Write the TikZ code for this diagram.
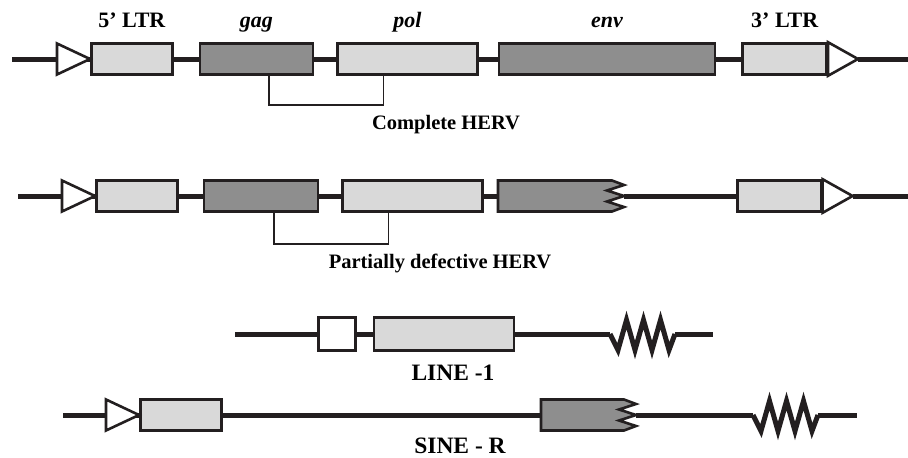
\documentclass[tikz,border=0pt]{standalone}
\usepackage{fontspec}
\setmainfont{Liberation Serif}
\usetikzlibrary{positioning}
\definecolor{ink}{HTML}{231F20}
\definecolor{ltrgray}{HTML}{D9D9D9}
\definecolor{orfgray}{HTML}{8E8E8E}
\tikzset{
	dna/.style={draw=ink, line width=5pt}, % the thick backbone
	box/.style={draw=ink, line width=2.6pt, inner sep=0pt, minimum height=31pt},
	ltr/.style={box, fill=ltrgray}, % light boxes
	orf/.style={box, fill=orfgray}, % dark boxes
	promo/.style={draw=ink, line width=2.6pt, fill=white}, % open triangles
	link/.style={draw=ink, line width=1.8pt}, % gag-pol bracket
	gene/.style={font=\bfseries\itshape\fontsize{22}{24}\selectfont, anchor=base},
	tag/.style={font=\bfseries\fontsize{22}{24}\selectfont, anchor=base},
	title/.style={font=\bfseries\fontsize{20.5}{24}\selectfont, anchor=base},
	big/.style={font=\bfseries\fontsize{23.5}{26}\selectfont, anchor=base},
	% truncated env, #1 = length of the flat part
	cut/.pic={
		\draw[draw=ink, line width=2.6pt, fill=orfgray]
			(0,-15.5) -- (#1,-15.5) -- ({#1+12},-11) -- ({#1-5},-5.5) -- ({#1+12},0)
			-- ({#1-5},5.5) -- ({#1+12},11) -- (#1,15.5) -- (0,15.5) -- cycle;
		\coordinate (-in) at (0,0);
		\coordinate (-tip) at ({#1+12},0);
	},
	% poly-A like zigzag
	tail/.pic={
		\draw[dna] (0,0) coordinate (-in) -- (8,16) -- (16.5,-14) -- (25,16) -- (33.5,-14)
			-- (42,16) -- (50.5,-14) -- (59,16) -- (65,0) coordinate (-end);
	},
}

\begin{document}
\begin{tikzpicture}[x=1pt, y=-1pt]
	\useasboundingbox (0,0) rectangle (908,458);

	% complete HERV
	\coordinate (s1) at (12,59);
	\node[ltr, minimum width=81pt, anchor=west] (ltra) at (90,59) {};
	\node[orf, minimum width=113pt, right=25pt of ltra] (gaga) {};
	\node[ltr, minimum width=140pt, right=22pt of gaga] (pola) {};
	\node[orf, minimum width=216pt, right=19pt of pola] (enva) {};
	\node[ltr, minimum width=84pt, right=25pt of enva] (ltrb) {};
	\coordinate (tipb) at ([xshift=30pt]ltrb.east);
	\coordinate (e1) at (908,59);
	\draw[dna] (s1) -- (ltra.west);
	\draw[dna] (ltra) -- (gaga);
	\draw[dna] (gaga) -- (pola);
	\draw[dna] (pola) -- (enva);
	\draw[dna] (enva) -- (ltrb);
	\draw[dna] (tipb) -- (e1);
	\draw[promo] (ltra.west) -- ++(-33,15.5) -- ++(0,-31) -- cycle;
	\draw[promo] (ltrb.north east) -- (tipb) -- (ltrb.south east) -- cycle;
	\draw[link] ([xshift=12.5pt]gaga.south) -- ++(0,29) -| ([xshift=-24pt]pola.south);
	\node[tag] (la) at ([yshift=15pt]ltra.north) {5' LTR};
	\node[gene] (lb) at ([yshift=15pt]gaga.north) {gag};
	\node[gene] (lc) at ([yshift=15pt]pola.north) {pol};
	\node[gene] (ld) at ([yshift=15pt]enva.north) {env};
	\node[tag] (le) at ([yshift=15pt]ltrb.north) {3' LTR};
	\node[title] (cap1) at (446,129) {Complete HERV};

	% partially defective HERV
	\coordinate (s2) at (18,196);
	\node[ltr, minimum width=81pt, anchor=west] (ltrc) at (95,196) {};
	\node[orf, minimum width=114pt, right=24pt of ltrc] (gagb) {};
	\node[ltr, minimum width=140pt, right=22pt of gagb] (polb) {};
	\pic (envb) at (498,196) {cut=114};
	\node[ltr, minimum width=84pt, anchor=west] (ltrd) at (736,196) {};
	\coordinate (tipd) at ([xshift=30pt]ltrd.east);
	\coordinate (e2) at (908,196);
	\draw[dna] (s2) -- (ltrc.west);
	\draw[dna] (ltrc) -- (gagb);
	\draw[dna] (gagb) -- (polb);
	\draw[dna] (polb) -- (envb-in);
	\draw[dna] (envb-tip) -- (ltrd);
	\draw[dna] (tipd) -- (e2);
	\draw[promo] (ltrc.west) -- ++(-33,15.5) -- ++(0,-31) -- cycle;
	\draw[promo] (ltrd.north east) -- (tipd) -- (ltrd.south east) -- cycle;
	\draw[link] ([xshift=13pt]gagb.south) -- ++(0,31) -| ([xshift=-24pt]polb.south);
	\node[title] (cap2) at (440,268) {Partially defective HERV};

	% LINE-1
	\coordinate (s3) at (235,334);
	\node[box, fill=white, minimum width=37pt, minimum height=33pt, anchor=west] (orfa) at (317,334) {};
	\node[ltr, minimum width=140pt, minimum height=33pt, right=16pt of orfa] (orfb) {};
	\pic (pa) at (610,334) {tail};
	\coordinate (e3) at (713,334);
	\draw[dna] (s3) -- (orfa);
	\draw[dna] (orfa) -- (orfb);
	\draw[dna] (orfb) -- (pa-in);
	\draw[dna] (pa-end) -- (e3);
	\node[big] (cap3) at (453,380) {LINE -1};

	% SINE-R
	\coordinate (s4) at (63,415);
	\node[ltr, minimum width=81pt, anchor=west] (ltre) at (139,415) {};
	\pic (envc) at (541,415) {cut=83};
	\pic (pb) at (753,415) {tail};
	\coordinate (e4) at (857,415);
	\draw[dna] (s4) -- (ltre.west);
	\draw[dna] (ltre) -- (envc-in);
	\draw[dna] (envc-tip) -- (pb-in);
	\draw[dna] (pb-end) -- (e4);
	\draw[promo] (ltre.west) -- ++(-33,15.5) -- ++(0,-31) -- cycle;
	\node[big] (cap4) at (460,453) {SINE - R};
\end{tikzpicture}
\end{document}
